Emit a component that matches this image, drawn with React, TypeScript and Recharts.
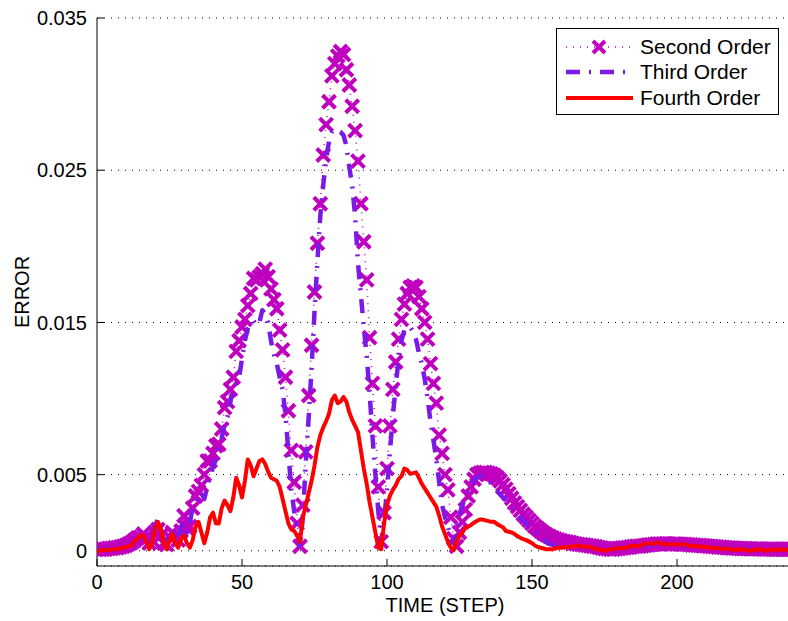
import React from "react";
import {
  LineChart,
  Line,
  XAxis,
  YAxis,
  CartesianGrid,
} from "recharts";

// error values are in units of 1e-3, one entry per time step 0..240
const secondOrder = [
  0.1, 0.1, 0.1, 0.1, 0.15, 0.15, 0.2, 0.2, 0.25, 0.3, 0.35, 0.45, 0.55, 0.7, 0.85,
  0.9, 1.1, 0.9, 0.5, 0.7, 1.2, 1.4, 1.0, 0.5, 0.4, 0.9, 1.2, 1.0, 0.7, 1.3, 2.3, 1.5, 1.6, 2.8, 3.6, 3.9,
  4.3, 5.0, 5.9, 5.9, 6.4, 6.9, 7.0, 8.0, 9.4, 9.8, 10.6, 11.4, 13.1, 13.8, 14.7, 15.2, 16.1, 16.9, 17.9,
  17.8, 18.0, 18.2, 18.5, 18.0, 17.2, 16.5, 15.9, 14.5, 13.2, 11.4, 9.2, 6.6, 4.5, 1.8, 0.3,
  3.0, 6.5, 10.2, 13.5, 17.0, 20.2, 22.8, 26.0, 28.0, 29.5, 31.2, 32.0, 32.5, 32.8, 32.6, 31.6, 30.6,
  29.2, 27.6, 25.6, 22.8, 20.3, 17.8, 14.0, 11.0, 8.2, 4.2, 0.6,
  2.5, 5.4, 8.2, 10.6, 12.4, 13.9, 15.2, 16.2, 16.9, 17.3, 17.4, 17.3, 16.7, 15.9, 15.0, 13.9, 12.3,
  11.0, 9.7, 7.6, 6.4, 5.0, 4.0, 2.2, 0.8, 0.3,
  1.2, 1.9, 2.7, 3.6, 4.2, 4.7, 5.0, 5.1, 5.15, 5.15, 5.1, 5.05, 4.95, 4.8, 4.6, 4.35, 4.05, 3.75, 3.45,
  3.15, 2.9, 2.65, 2.4, 2.2, 2.0, 1.8, 1.6, 1.45, 1.3, 1.15, 1.05, 0.95, 0.85, 0.78, 0.72, 0.66,
  0.62, 0.58, 0.55, 0.5, 0.45, 0.42, 0.4, 0.38, 0.35, 0.32, 0.3, 0.27, 0.22, 0.18, 0.15, 0.12, 0.1, 0.1,
  0.12, 0.15, 0.18, 0.2, 0.22, 0.25, 0.28, 0.3, 0.3, 0.32, 0.35, 0.38, 0.4, 0.42, 0.45, 0.45, 0.45, 0.46,
  0.45, 0.44, 0.45, 0.45, 0.44, 0.42, 0.42, 0.4, 0.38, 0.37, 0.36, 0.35, 0.33, 0.32, 0.3, 0.28, 0.27,
  0.25, 0.24, 0.22, 0.2, 0.19, 0.18, 0.17, 0.16, 0.15, 0.14, 0.14, 0.13, 0.13, 0.12, 0.12, 0.12, 0.11,
  0.11, 0.11, 0.1, 0.1, 0.1, 0.1, 0.1, 0.1, 0.1, 0.1,
];

const thirdOrder = [
  0.05, 0.05, 0.05, 0.1, 0.1, 0.1, 0.15, 0.15, 0.2, 0.25, 0.3, 0.35, 0.45, 0.6, 0.75,
  0.9, 1.0, 0.7, 0.6, 1.0, 1.6, 2.1, 1.5, 0.6, 0.5, 1.0, 1.3, 0.9, 0.8, 1.6, 1.8, 1.2, 1.8, 2.9, 3.2, 3.6,
  3.8, 3.4, 4.2, 4.9, 5.5, 6.0, 7.0, 7.4, 8.3, 8.8, 9.8, 10.8, 11.0, 11.4, 12.6, 13.8, 14.6, 15.0, 15.1,
  14.8, 15.0, 15.8, 15.6, 15.0, 13.8, 12.9, 12.3, 11.4, 10.6, 8.9, 6.5, 4.0, 2.6, 1.2, 0.2,
  2.3, 5.8, 8.8, 12.0, 15.7, 19.0, 22.0, 24.0, 25.7, 26.9, 27.5, 27.7, 27.6, 27.5, 27.3, 26.6, 25.2,
  24.0, 22.0, 18.9, 16.8, 14.7, 12.8, 10.4, 7.5, 5.0, 2.6, 0.6,
  2.0, 4.0, 6.5, 8.8, 10.8, 12.6, 13.8, 14.5, 14.7, 14.7, 14.4, 13.9, 13.0, 12.3, 11.3, 10.0, 8.5, 7.3,
  6.0, 4.5, 3.0, 2.2, 1.6, 0.8, 0.5, 1.3,
  2.4, 3.0, 3.5, 4.0, 4.3, 4.6, 4.8, 4.9, 4.9, 4.8, 4.6, 4.4, 4.2, 3.9, 3.7, 3.5, 3.3, 3.0, 2.8, 2.6,
  2.4, 2.2, 2.0, 1.8, 1.6, 1.4, 1.2, 1.0, 0.85, 0.7, 0.55, 0.45, 0.4, 0.35, 0.3, 0.3,
  0.3, 0.3, 0.3, 0.3, 0.3, 0.3, 0.28, 0.26, 0.24, 0.22, 0.2, 0.15, 0.12, 0.1, 0.08, 0.08, 0.1, 0.12,
  0.15, 0.18, 0.2, 0.22, 0.25, 0.28, 0.3, 0.32, 0.34, 0.36, 0.38, 0.4, 0.42, 0.44, 0.45, 0.45, 0.45,
  0.45, 0.44, 0.43, 0.42, 0.42, 0.41, 0.4, 0.39, 0.38, 0.36, 0.34, 0.32, 0.3, 0.28, 0.26, 0.24, 0.22,
  0.2, 0.18, 0.17, 0.16, 0.15, 0.14, 0.13, 0.12, 0.12, 0.11, 0.1, 0.1, 0.1, 0.09, 0.09, 0.09, 0.08,
  0.08, 0.08, 0.08, 0.08, 0.08, 0.08, 0.08, 0.08, 0.08, 0.08, 0.08,
];

const fourthOrder = [
  0, 0, 0.05, 0.05, 0.05, 0.1, 0.1, 0.1, 0.15, 0.2, 0.25, 0.3, 0.4, 0.6, 0.8,
  1.0, 1.0, 0.6, 0.1, 0.5, 1.4, 1.9, 1.5, 0.5, 0.1, 0.7, 1.1, 0.5, 0.2, 0.8, 1.0, 0.5, 0.2, 0.7, 1.6, 1.9,
  1.2, 0.5, 1.2, 2.2, 2.5, 1.8, 1.8, 2.8, 3.3, 3.0, 2.6, 3.5, 4.8, 4.3, 3.5, 4.6, 6.0, 5.6, 4.9,
  5.4, 5.9, 6.0, 5.7, 5.2, 4.8, 4.7, 4.6, 4.2, 3.4, 2.6, 1.8, 1.4, 1.3, 1.0, 0.6,
  2.2, 3.0, 3.8, 4.6, 5.6, 6.8, 7.6, 8.1, 8.5, 9.0, 9.9, 10.2, 9.7, 9.8, 10.1, 9.8, 9.1,
  8.6, 8.2, 7.8, 6.6, 5.4, 4.4, 3.2, 2.2, 1.2, 0.2, 0.1,
  1.8, 3.0, 3.6, 4.0, 4.3, 4.7, 4.9, 5.4, 5.3, 5.05, 5.1, 5.15, 4.8, 4.4, 4.1, 3.8, 3.5, 3.2,
  2.9, 2.3, 1.6, 1.1, 0.6, 0.2, 0.05, 0.6,
  1.0, 1.2, 1.5, 1.6, 1.7, 1.85, 1.95, 2.05, 2.05, 2.0, 1.95, 1.9, 1.9, 1.75, 1.65, 1.55, 1.3, 1.25,
  1.2, 1.1, 0.95, 0.85, 0.77, 0.7, 0.6, 0.5, 0.35, 0.25, 0.2, 0.15, 0.1, 0.1, 0.1, 0.15, 0.2, 0.2,
  0.25, 0.25, 0.25, 0.3, 0.3, 0.35, 0.3, 0.25, 0.3, 0.25, 0.2, 0.1, 0.1, 0.05, 0.0, 0.05, 0.1, 0.1,
  0.15, 0.2, 0.15, 0.2, 0.25, 0.3, 0.35, 0.3, 0.3, 0.4, 0.5, 0.45, 0.5, 0.45, 0.55, 0.5, 0.45, 0.4,
  0.45, 0.4, 0.45, 0.4, 0.4, 0.45, 0.4, 0.35, 0.3, 0.35, 0.3, 0.25, 0.3, 0.2, 0.25, 0.2, 0.15, 0.2,
  0.15, 0.1, 0.15, 0.1, 0.1, 0.05, 0.1, 0.05, 0.1, 0.05, 0.0, 0.05, 0.1, 0.05, 0.1, 0.05, 0.0, 0.05,
  0.1, 0.05, 0.1, 0.05, 0.1, 0.05, 0.1, 0.1,
];

const xTicks = [0, 50, 100, 150, 200];
const yTicks = [0, 0.005, 0.015, 0.025, 0.035];

const SECOND = "#bf00bf";
const THIRD = "#7a1ae6";
const FOURTH = "#ff0000";
const FONT = "'Liberation Sans', Arial, Helvetica, sans-serif";
const FS = 20;

const W = 800;
const H = 621;
const MARGIN = { top: 18, right: 7, bottom: 0, left: 0 };
const X_DOMAIN: [number, number] = [0, 240];
const Y_DOMAIN: [number, number] = [-0.001, 0.035];

const rows = secondOrder.map((v, t) => ({
  t,
  second: v / 1000,
  third: thirdOrder[t] / 1000,
  fourth: fourthOrder[t] / 1000,
}));

// "x" marker drawn at every sample of the second-order series
const Cross = (p: any) => {
  const { cx, cy, index } = p;
  if (cx == null || cy == null) return <g key={`c-${index}`} />;
  const s = 6.5;
  return (
    <path
      key={`c-${index}`}
      d={`M${cx - s},${cy - s}L${cx + s},${cy + s}M${cx - s},${cy + s}L${cx + s},${cy - s}`}
      stroke={SECOND}
      strokeWidth={4}
      fill="none"
    />
  );
};

const YLabel = (props: any) => {
  const vb = props.viewBox;
  const x = vb.x + 22;
  const y = vb.y + vb.height / 2;
  return (
    <text x={x} y={y} transform={`rotate(-90 ${x} ${y})`} textAnchor="middle"
      dominantBaseline="central" fontSize={FS} fontFamily={FONT} fill="#000">
      ERROR
    </text>
  );
};

const XLabel = (props: any) => {
  const vb = props.viewBox;
  return (
    <text x={vb.x + vb.width / 2} y={vb.y + 39} textAnchor="middle"
      dominantBaseline="central" fontSize={FS} fontFamily={FONT} fill="#000">
      TIME (STEP)
    </text>
  );
};

function LegendBox() {
  const row = (top: number, label: string, sample: React.ReactNode) => (
    <div style={{ position: "absolute", left: 0, top, height: 24, width: "100%" }}>
      <svg width={80} height={24} style={{ position: "absolute", left: 0, top: 0 }}>
        {sample}
      </svg>
      <span style={{ position: "absolute", left: 83, top: 0, lineHeight: "24px", fontSize: 21, whiteSpace: "nowrap" }}>
        {label}
      </span>
    </div>
  );
  return (
    <div
      style={{
        position: "absolute", left: 556, top: 28, width: 221, height: 85,
        border: "1px solid #000", background: "#fff", fontFamily: FONT, color: "#000",
      }}
    >
      {row(6, "Second Order", (
        <g>
          <line x1={9} y1={12} x2={76} y2={12} stroke={SECOND} strokeWidth={1.5} strokeDasharray="1 6" />
          <path d="M36,6L48,18M36,18L48,6" stroke={SECOND} strokeWidth={4} />
        </g>
      ))}
      {row(31, "Third Order", (
        <line x1={9} y1={12} x2={76} y2={12} stroke={THIRD} strokeWidth={4.5} strokeDasharray="14 9 2 9" />
      ))}
      {row(57, "Fourth Order", (
        <line x1={9} y1={12} x2={76} y2={12} stroke={FOURTH} strokeWidth={4} />
      ))}
    </div>
  );
}

const layer: React.CSSProperties = { position: "absolute", left: 0, top: 0 };

export default function App() {
  return (
    <div
      style={{
        position: "fixed", left: 0, top: 0, width: 788, height: 621,
        overflow: "hidden", background: "#fff",
      }}
    >
      {/* base layer: axes, grid and the second-order markers */}
      <div style={layer}>
        <LineChart width={W} height={H} data={rows} margin={MARGIN}>
          <CartesianGrid vertical={false} stroke="#000" strokeDasharray="1 6" />
          <XAxis
            dataKey="t"
            type="number"
            domain={X_DOMAIN}
            ticks={xTicks}
            height={55}
            tickSize={-7}
            tickMargin={16}
            axisLine={{ stroke: "#000" }}
            tickLine={{ stroke: "#000" }}
            tick={{ fill: "#000", fontSize: FS, fontFamily: FONT }}
            label={XLabel}
            allowDataOverflow
          />
          <XAxis
            xAxisId="top"
            orientation="top"
            type="number"
            domain={X_DOMAIN}
            ticks={xTicks}
            height={0}
            tickSize={-7}
            axisLine={{ stroke: "#000" }}
            tickLine={{ stroke: "#000" }}
            tick={() => <g />}
          />
          <YAxis
            type="number"
            domain={Y_DOMAIN}
            ticks={yTicks}
            width={97}
            tickSize={-7}
            tickMargin={17}
            axisLine={{ stroke: "#000" }}
            tickLine={{ stroke: "#000" }}
            tick={{ fill: "#000", fontSize: FS, fontFamily: FONT }}
            tickFormatter={(v: number) => (v === 0 ? "0" : v.toFixed(3))}
            label={YLabel}
            allowDataOverflow
          />
          <Line
            dataKey="second"
            stroke={SECOND}
            strokeWidth={1.5}
            strokeDasharray="1 6"
            dot={Cross}
            activeDot={false}
            isAnimationActive={false}
          />
        </LineChart>
      </div>
      {/* top layer: third and fourth order lines drawn over the markers */}
      <div style={{ ...layer, pointerEvents: "none" }}>
        <LineChart width={W} height={H} data={rows} margin={MARGIN}>
          <XAxis dataKey="t" type="number" domain={X_DOMAIN} ticks={xTicks} height={55}
            axisLine={false} tickLine={false} tick={false} allowDataOverflow />
          <YAxis type="number" domain={Y_DOMAIN} ticks={yTicks} width={97}
            axisLine={false} tickLine={false} tick={false} allowDataOverflow />
          <Line
            dataKey="third"
            stroke={THIRD}
            strokeWidth={4.5}
            strokeDasharray="14 9 2 9"
            strokeLinejoin="round"
            dot={false}
            activeDot={false}
            isAnimationActive={false}
          />
          <Line
            dataKey="fourth"
            stroke={FOURTH}
            strokeWidth={4}
            strokeLinejoin="round"
            strokeLinecap="round"
            dot={false}
            activeDot={false}
            isAnimationActive={false}
          />
        </LineChart>
      </div>
      <LegendBox />
    </div>
  );
}
